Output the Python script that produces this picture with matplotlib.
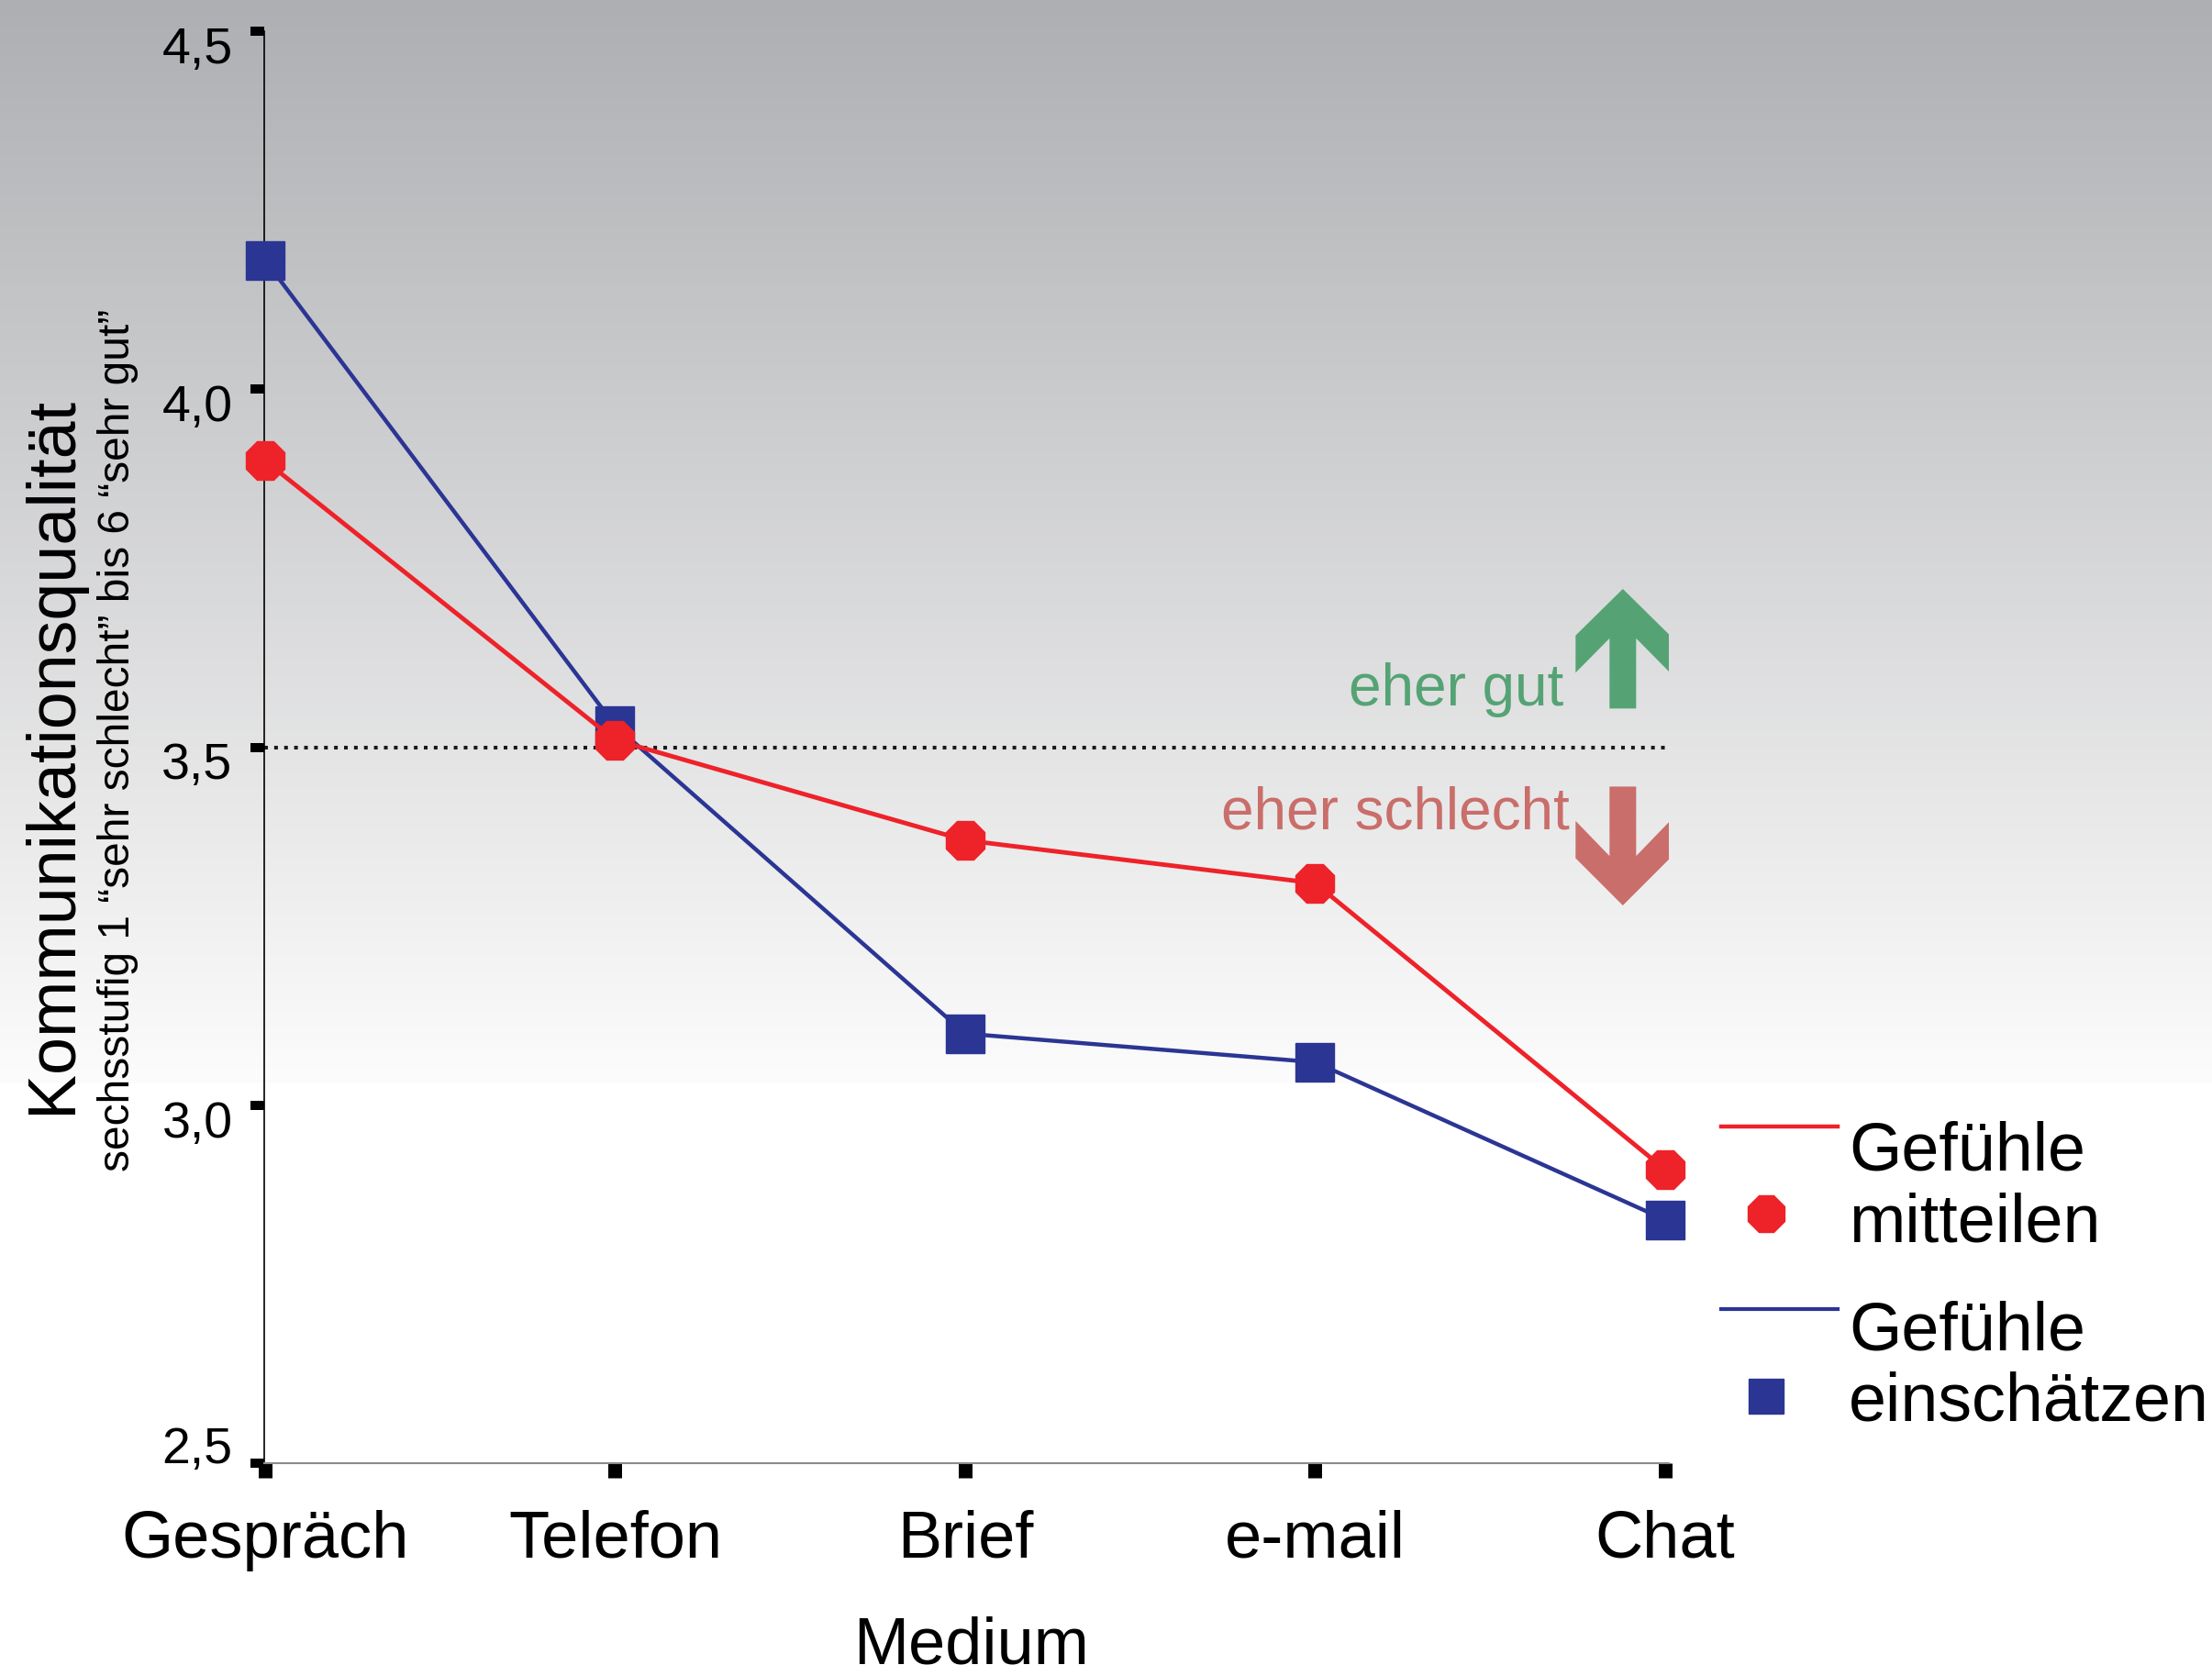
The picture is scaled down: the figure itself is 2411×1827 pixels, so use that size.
import matplotlib
matplotlib.use('Agg')
import matplotlib.pyplot as plt
import numpy as np
from matplotlib import font_manager
from matplotlib.patches import Polygon
from matplotlib.lines import Line2D
from matplotlib.transforms import ScaledTranslation

# data
media = ['Gespräch', 'Telefon', 'Brief', 'e-mail', 'Chat']
mitteilen = [3.90, 3.51, 3.37, 3.31, 2.91]
einschaetzen = [4.18, 3.53, 3.10, 3.06, 2.84]
y_ticks = [2.5, 3.0, 3.5, 4.0, 4.5]
y_ticklabels = ['2,5', '3,0', '3,5', '4,0', '4,5']
neutral = 3.5

RED = '#ee2229'
BLUE = '#2b3594'
GREEN = '#55a374'
ROSE = '#c96e6a'

plt.rcParams['font.family'] = ['Liberation Sans', 'DejaVu Sans']
names = {f.name for f in font_manager.fontManager.ttflist}
narrow = 'Liberation Sans Narrow' if 'Liberation Sans Narrow' in names else 'Liberation Sans'

W, H = 2411, 1827
fig = plt.figure(figsize=(W / 100, H / 100), dpi=100)

# grey-to-white background gradient over the upper part
bg = fig.add_axes([0, 0, 1, 1], zorder=-10)
t = np.clip(np.arange(H) / 1180.0, 0, 1)
top = np.array([174, 175, 178]) / 255.0
bot = np.array([252, 252, 252]) / 255.0
rows = top[None, :] + (bot - top)[None, :] * t[:, None]
rows[np.arange(H) > 1180] = 1.0
bg.imshow(rows[:, None, :], extent=[0, 1, 0, 1], aspect='auto', origin='upper')
bg.axis('off')

ax = fig.add_axes([288 / W, 1 - 1595 / H, (1819 - 288) / W, (1595 - 34) / H])
ax.set_facecolor('none')
x = np.arange(len(media))

ax.axhline(neutral, color='#1a1a1a', lw=2.9, linestyle=(0, (1, 1.7)),
           dash_capstyle='butt', zorder=1)
ax.plot(x, einschaetzen, color=BLUE, lw=3.2, marker='s', ms=30,
        mfc=BLUE, mec=BLUE, clip_on=False, zorder=3)
ax.plot(x, mitteilen, color=RED, lw=3.5, marker='8', ms=33,
        mfc=RED, mec=RED, clip_on=False, zorder=4)

ax.set_xlim(-0.0026, 4.0105)
ax.set_ylim(2.5, 4.5)

# up / down arrows with captions
xc, hw, sw = 3.879, 0.135, 0.038
up = [(xc, 3.721), (xc + hw, 3.656), (xc + hw, 3.604), (xc + sw, 3.652),
      (xc + sw, 3.554), (xc - sw, 3.554), (xc - sw, 3.652), (xc - hw, 3.604),
      (xc - hw, 3.656)]
down = [(xc - sw, 3.445), (xc + sw, 3.445), (xc + sw, 3.348), (xc + hw, 3.397),
        (xc + hw, 3.345), (xc, 3.279), (xc - hw, 3.345), (xc - hw, 3.397),
        (xc - sw, 3.348)]
ax.add_patch(Polygon(up, closed=True, facecolor=GREEN, edgecolor='none', zorder=2))
ax.add_patch(Polygon(down, closed=True, facecolor=ROSE, edgecolor='none', zorder=2))
ax.text(3.71, 3.558, 'eher gut', ha='right', va='baseline', color=GREEN, fontsize=46)
ax.text(3.727, 3.386, 'eher schlecht', ha='right', va='baseline', color=ROSE, fontsize=46)

for s in ['top', 'right']:
    ax.spines[s].set_visible(False)
ax.spines['left'].set_color('black')
ax.spines['left'].set_linewidth(1.2)
ax.spines['bottom'].set_color('#8c8c8c')
ax.spines['bottom'].set_linewidth(1.5)

ax.set_xticks(x)
ax.set_xticklabels(media, fontsize=52)
ax.set_yticks(y_ticks)
ax.set_yticklabels(y_ticklabels, fontsize=40)
ax.tick_params(axis='x', direction='out', length=11.5, width=10.8, color='black', pad=25)
ax.tick_params(axis='y', direction='out', length=10.8, width=7.2, color='black', pad=14)
for val, lab in zip(y_ticks, ax.get_yticklabels()):
    dy = 0.20 if val == 2.5 else -0.15
    lab.set_transform(lab.get_transform() + ScaledTranslation(0, dy, fig.dpi_scale_trans))

fig.text(1059 / W, 1 - 1813 / H, 'Medium', ha='center', va='baseline', fontsize=52)
fig.text(58 / W, 1 - 823 / H, 'Kommunikationsqualität', rotation=90,
         ha='center', va='center', fontsize=53, family=narrow)
fig.text(129 / W, 1 - 807 / H, 'sechsstufig 1 \u201csehr schlecht\u201d bis 6 \u201csehr gut\u201d',
         rotation=90, ha='center', va='center', fontsize=34.5, family=narrow)

# legend: line on top, marker below, two-line label
fig.add_artist(Line2D([1876 / W, 2003 / W], [1 - 1228 / H] * 2, color=RED, lw=3.2))
fig.add_artist(Line2D([1925 / W], [1 - 1323 / H], marker='8', ms=31, color=RED, lw=0))
fig.text(2015 / W, 1 - 1222 / H, 'Gefühle\nmitteilen', ha='left', va='top',
         fontsize=53, linespacing=1.15)
fig.add_artist(Line2D([1876 / W, 2003 / W], [1 - 1427 / H] * 2, color=BLUE, lw=3.0))
fig.add_artist(Line2D([1925 / W], [1 - 1522 / H], marker='s', ms=28, color=BLUE, lw=0))
fig.text(2015 / W, 1 - 1417 / H, 'Gefühle\neinschätzen', ha='left', va='top',
         fontsize=53, linespacing=1.15)

fig.savefig('out.png', dpi=100)
